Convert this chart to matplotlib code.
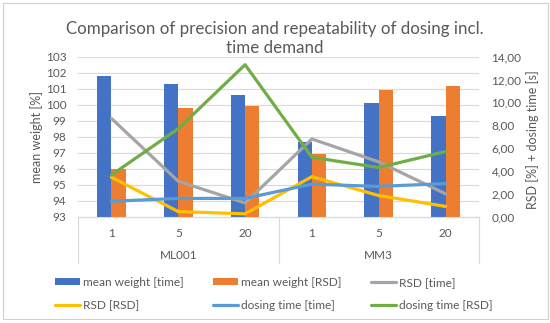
import matplotlib
matplotlib.use("Agg")
import matplotlib.pyplot as plt
import matplotlib.transforms as mtransforms
from matplotlib.patches import Rectangle
from matplotlib.lines import Line2D
import numpy as np

# ---------------- data ----------------
groups = ["ML001", "MM3"]
sub_labels = ["1", "5", "20", "1", "5", "20"]
mean_weight_time = [101.8, 101.3, 100.6, 97.7, 100.1, 99.3]
mean_weight_rsd = [96.0, 99.8, 99.95, 96.95, 100.95, 101.2]
rsd_time = [8.6, 3.1, 1.2, 6.8, 4.8, 2.0]
rsd_rsd = [3.45, 0.45, 0.25, 3.5, 1.85, 0.9]
dosing_time_time = [1.35, 1.6, 1.6, 2.85, 2.65, 2.9]
dosing_time_rsd = [3.65, 7.7, 13.3, 5.2, 4.3, 5.7]

title = "Comparison of precision and repeatability of dosing incl.\ntime demand"
left_label = "mean weight [%]"
right_label = "RSD [%] + dosing time [s]"

c_blue = "#4472C4"
c_orange = "#ED7D31"
c_gray = "#A5A5A5"
c_yellow = "#FFC000"
c_lblue = "#5B9BD5"
c_green = "#70AD47"
txt = "#595959"
grid = "#D9D9D9"

plt.rcParams['font.family'] = ['Lato', 'DejaVu Sans']

W, H = 550, 323
fig = plt.figure(figsize=(W / 100, H / 100), dpi=100)
fig.patch.set_facecolor("white")

# chart border (excel chart area)
fig.add_artist(Rectangle((3 / W, 1 - 319 / H), 545 / W, 316 / H, transform=fig.transFigure,
                         fill=False, edgecolor="#D0D0D0", lw=0.8))

ax = fig.add_axes([78 / W, 1 - 216.7 / H, 401 / W, 160 / H])
ax2 = ax.twinx()

x = np.arange(len(sub_labels))
bw = 0.215
ax.bar(x - bw / 2, np.array(mean_weight_time) - 93, bw, bottom=93, color=c_blue, label="mean weight [time]", zorder=3)
ax.bar(x + bw / 2, np.array(mean_weight_rsd) - 93, bw, bottom=93, color=c_orange, label="mean weight [RSD]", zorder=3)

lw = 2.3
l1, = ax2.plot(x, rsd_time, color=c_gray, lw=lw, label="RSD [time]", solid_capstyle="round")
l2, = ax2.plot(x, rsd_rsd, color=c_yellow, lw=lw, label="RSD [RSD]", solid_capstyle="round")
l3, = ax2.plot(x, dosing_time_time, color=c_lblue, lw=lw, label="dosing time [time]", solid_capstyle="round")
l4, = ax2.plot(x, dosing_time_rsd, color=c_green, lw=lw, label="dosing time [RSD]", solid_capstyle="round")

ax.set_xlim(-0.5, len(x) - 0.5)
ax.set_ylim(93, 103)
ax.set_yticks(np.arange(93, 104, 1))
ax.yaxis.grid(True, color=grid, lw=0.8, zorder=0)
ax.set_axisbelow(True)
ax2.set_ylim(0, 14)
ax2.set_yticks(np.arange(0, 15, 2))
ax2.set_yticklabels([f"{v:.2f}".replace(".", ",") for v in np.arange(0, 15, 2)])

fs = 8.5
for a in (ax, ax2):
    for s in ("top", "left", "right"):
        a.spines[s].set_visible(False)
    a.spines["bottom"].set_color(grid)
    a.tick_params(axis="both", length=0, labelsize=fs, labelcolor=txt)
ax.tick_params(axis="y", pad=8.5)
ax2.tick_params(axis="y", pad=9)
ax.tick_params(axis="x", pad=8)
ax.set_xticks(x)
ax.set_xticklabels(sub_labels)

# group labels and separators
trans = mtransforms.blended_transform_factory(ax.transData, ax.transAxes)
n_per = 3
for gi, g in enumerate(groups):
    ax.text(gi * n_per + (n_per - 1) / 2, -38.5 / 160, g, transform=trans, ha="center", va="center",
            fontsize=fs, color=txt)
for sx in [-0.5 + k * n_per for k in range(len(groups) + 1)]:
    ax.add_line(Line2D([sx, sx], [0, -46.5 / 160], transform=trans, color=grid, lw=0.8, clip_on=False))

ax.set_ylabel(left_label, fontsize=9, color=txt)
ax2.set_ylabel(right_label, fontsize=9, color=txt)
ax.yaxis.set_label_coords((43 - 78) / 401, 0.5)
ax2.yaxis.set_label_coords((526 - 78) / 401, 0.48)

fig.text(275 / W, 1 - 38.5 / H, title, ha="center", va="center", fontsize=12.2, color=txt, linespacing=1.3)

# legend
h_b, l_b = ax.get_legend_handles_labels()
handles = h_b + [l1, l2, l3, l4]
labels = l_b + ["RSD [time]", "RSD [RSD]", "dosing time [time]", "dosing time [RSD]"]
order = [0, 3, 1, 4, 2, 5]
leg = fig.legend([handles[i] for i in order], [labels[i] for i in order], ncol=3,
                 loc="center", bbox_to_anchor=(274 / W, 1 - 294 / H), frameon=False,
                 fontsize=8.6, handlelength=2.1, handleheight=0.6, handletextpad=0.25,
                 columnspacing=2.45, labelspacing=1.05)
for t in leg.get_texts():
    t.set_color(txt)

fig.savefig("out.png", dpi=100, facecolor="white")
